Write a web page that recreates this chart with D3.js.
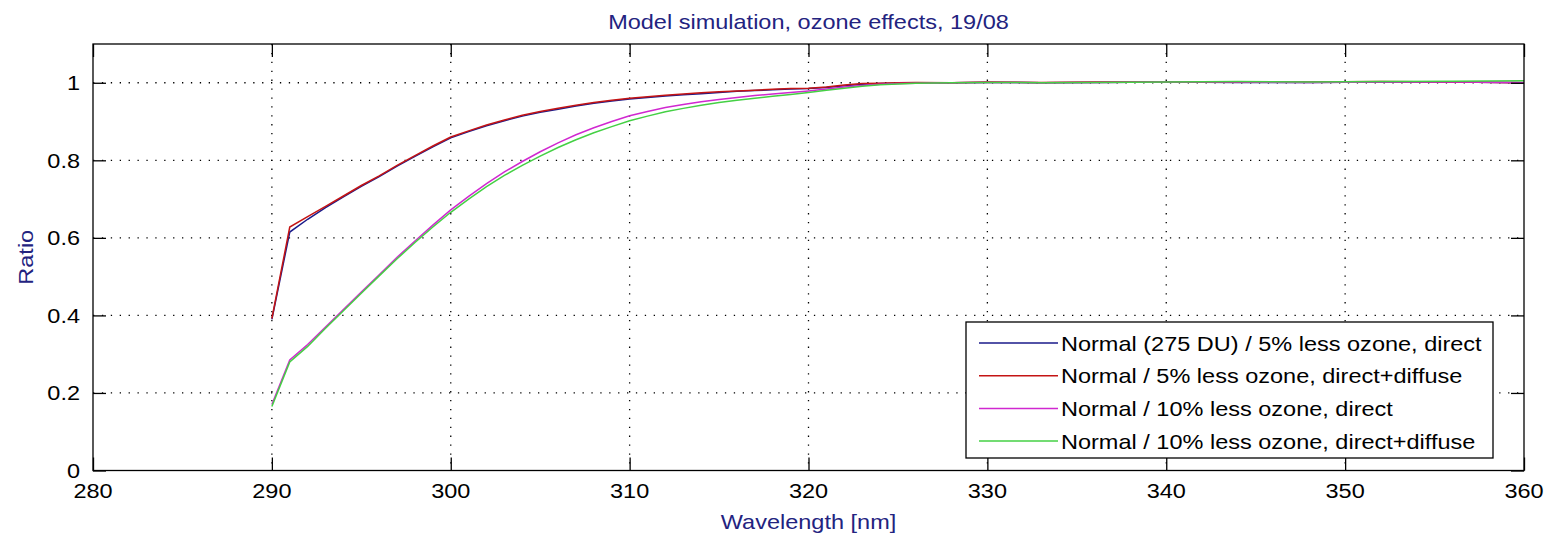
<!DOCTYPE html>
<html><head><meta charset="utf-8">
<script src="https://cdn.jsdelivr.net/npm/d3@7"></script>
<style>body{margin:0;background:#fff}svg{display:block}text{font-family:"Liberation Sans",Arial,sans-serif}</style>
</head><body><svg id="c" width="1556" height="538"></svg>
<script>
const wavelengths = [290,291,292,293,294,295,296,297,298,299,300,301,302,303,304,305,306,307,308,309,310,311,312,313,314,315,316,317,318,319,320,321,322,323,324,325,326,328,330,333,336,340,344,348,352,356,360];
const blueDirect5 = [0.39,0.615,0.648,0.678,0.706,0.733,0.758,0.785,0.81,0.835,0.858,0.874,0.889,0.902,0.914,0.924,0.932,0.94,0.947,0.953,0.958,0.962,0.966,0.969,0.972,0.975,0.978,0.98,0.982,0.984,0.985,0.988,0.992,0.996,0.998,0.999,1.0,1.0,1.001,1.0,1.001,1.002,1.001,1.001,1.002,1.002,1.0];
const redGlobal5 = [0.392,0.628,0.655,0.681,0.708,0.735,0.76,0.787,0.812,0.837,0.86,0.876,0.891,0.904,0.916,0.926,0.934,0.942,0.949,0.955,0.96,0.964,0.968,0.971,0.974,0.977,0.979,0.981,0.983,0.985,0.986,0.989,0.994,0.998,0.999,1.0,1.001,1.0,1.002,1.001,1.002,1.002,1.002,1.002,1.003,1.002,1.0];
const magentaDirect10 = [0.17,0.285,0.325,0.37,0.415,0.46,0.505,0.55,0.592,0.633,0.672,0.707,0.74,0.77,0.797,0.822,0.845,0.866,0.884,0.9,0.915,0.926,0.936,0.944,0.951,0.957,0.962,0.967,0.971,0.975,0.979,0.984,0.989,0.993,0.996,0.998,0.999,1.0,1.001,1.0,1.001,1.002,1.002,1.001,1.002,1.002,1.001];
const greenGlobal10 = [0.165,0.28,0.32,0.367,0.412,0.457,0.502,0.546,0.588,0.628,0.666,0.70,0.732,0.761,0.787,0.811,0.833,0.853,0.871,0.887,0.902,0.914,0.925,0.934,0.942,0.949,0.955,0.96,0.965,0.97,0.975,0.981,0.986,0.991,0.995,0.997,0.999,1.0,1.001,1.0,1.001,1.002,1.003,1.002,1.003,1.004,1.005];
const seriesNames = ["Normal (275 DU) / 5% less ozone, direct","Normal / 5% less ozone, direct+diffuse","Normal / 10% less ozone, direct","Normal / 10% less ozone, direct+diffuse"];
const seriesColors = ["#1a1a8a","#c41414","#d028d0","#44d044"];
const xTicks = [280,290,300,310,320,330,340,350,360];
const yTicks = [0,0.2,0.4,0.6,0.8,1];
const yTickLabels = ["0","0.2","0.4","0.6","0.8","1"];
const titleText = "Model simulation, ozone effects, 19/08";
const xLabel = "Wavelength [nm]";
const yLabel = "Ratio";

const allSeries = [blueDirect5, redGlobal5, magentaDirect10, greenGlobal10];
const svg = d3.select("#c");
const L = 93, R = 1524, T = 44, B = 470.5;
const x = d3.scaleLinear().domain([280,360]).range([L,R]);
const y = d3.scaleLinear().domain([0,1.1]).range([B,T]);
const fs = 21;
const sx = 1.12;
const navy = "#23237f";

function label(parent, px, py, str, anchor, color, rot) {
  const g = parent.append("g").attr("transform", `translate(${px},${py})` + (rot ? ` rotate(${rot})` : "") + ` scale(${sx},1)`);
  return g.append("text").attr("text-anchor", anchor).attr("font-size", fs).attr("fill", color).text(str);
}

// grid
const g = svg.append("g");
g.selectAll(".vg").data(xTicks.slice(1,-1)).join("line")
  .attr("x1",d=>x(d)).attr("x2",d=>x(d)).attr("y1",T).attr("y2",B)
  .attr("stroke","#000").attr("stroke-width",1.3).attr("stroke-dasharray","1.3,7.6");
g.selectAll(".hg").data(yTicks.slice(1)).join("line")
  .attr("y1",d=>y(d)).attr("y2",d=>y(d)).attr("x1",L).attr("x2",R)
  .attr("stroke","#000").attr("stroke-width",1.3).attr("stroke-dasharray","1.3,7.6");

// data lines
const line = d3.line().x((d,i)=>x(wavelengths[i])).y(d=>y(d));
allSeries.forEach((s,k)=>{
  svg.append("path").datum(s).attr("d",line).attr("fill","none")
    .attr("stroke",seriesColors[k]).attr("stroke-width",1.5);
});

// axes with inward ticks (labels drawn separately)
const tl = 13;
const axes = [
  svg.append("g").attr("transform",`translate(0,${B})`).call(d3.axisBottom(x).tickValues(xTicks).tickSize(-tl).tickFormat("")),
  svg.append("g").attr("transform",`translate(0,${T})`).call(d3.axisTop(x).tickValues(xTicks).tickSize(-tl).tickFormat("")),
  svg.append("g").attr("transform",`translate(${L},0)`).call(d3.axisLeft(y).tickValues(yTicks).tickSize(-tl).tickFormat("")),
  svg.append("g").attr("transform",`translate(${R},0)`).call(d3.axisRight(y).tickValues(yTicks).tickSize(-tl).tickFormat(""))
];
axes.forEach(a=>{
  a.select(".domain").remove();
  a.selectAll("line").attr("stroke","#000").attr("stroke-width",1.3);
});
svg.append("rect").attr("x",L).attr("y",T).attr("width",R-L).attr("height",B-T)
  .attr("fill","none").attr("stroke","#000").attr("stroke-width",1.3);

xTicks.forEach(t=>label(svg, x(t), 498, d3.format("d")(t), "middle", "#000"));
yTicks.forEach((t,i)=>label(svg, 80, y(t)+7.5, yTickLabels[i], "end", "#000"));

// titles
label(svg, (L+R)/2, 29, titleText, "middle", navy);
label(svg, (L+R)/2, 529, xLabel, "middle", navy);
label(svg, 33, (T+B)/2, yLabel, "middle", navy, -90);

// legend
const lx0 = 966, ly0 = 322, lw = 527, lh = 136;
const lg = svg.append("g");
lg.append("rect").attr("x",lx0).attr("y",ly0).attr("width",lw).attr("height",lh)
  .attr("fill","#fff").attr("stroke","#000").attr("stroke-width",1.3);
seriesNames.forEach((n,k)=>{
  const yy = ly0 + 21 + k*32.7;
  lg.append("line").attr("x1",lx0+13).attr("x2",lx0+92).attr("y1",yy).attr("y2",yy)
    .attr("stroke",seriesColors[k]).attr("stroke-width",1.5);
  label(lg, lx0+95, yy+7.5, n, "start", "#000");
});
</script></body></html>
